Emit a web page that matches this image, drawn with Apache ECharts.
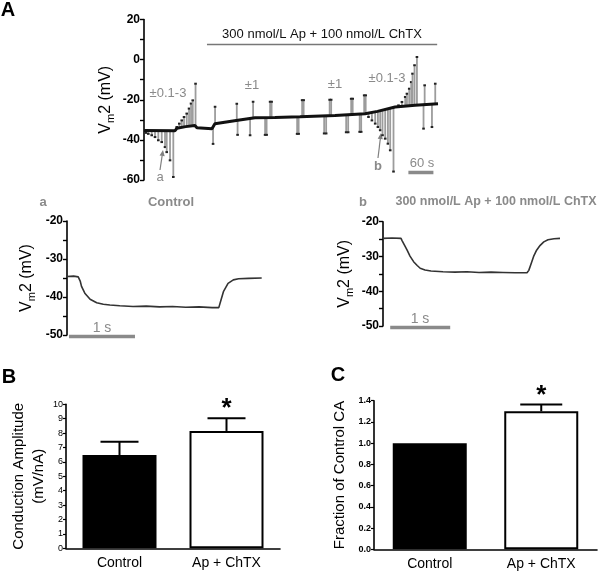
<!DOCTYPE html>
<html><head><meta charset="utf-8">
<script src="https://cdn.jsdelivr.net/npm/echarts@6/dist/echarts.min.js"></script>
<style>html,body{margin:0;padding:0;background:#fff}#c{width:600px;height:572px}</style>
</head><body><div id="c"></div>
<script>
// ---------- Panel A: long recording (time in s, Vm2 in mV) ----------
const traceBaseT = [0, 74, 79, 100, 122, 127, 163, 170, 221, 266, 314, 374, 458, 530, 560, 602, 650, 705];
const traceBaseV = [-35.3, -35.5, -34.2, -33.4, -32.8, -34, -34.5, -32, -30.3, -29, -28.8, -28.5, -27.8, -27, -25.8, -23.6, -22.8, -22];
// current-pulse responses: time and peak voltage
const pulseT = [4.8, 10.3, 18.5, 26.4, 34.3, 42.5, 50.4, 54.5, 62.4, 70.3,
  78.5, 84.7, 90.5, 96, 102.5, 108, 112.8, 116.9, 123.6,
  165.6, 170.4, 222.5, 224.4, 254.4, 261.6, 290.4, 294, 302.4, 306,
  367.2, 370.8, 379.2, 382.8, 432, 436.8, 445.2, 448.8, 484.8, 489.6, 496.8, 500.4,
  517.2, 520.8, 528, 531.6,
  538.3, 546.5, 554.4, 560.9, 566.4, 571.9, 578.4, 584.9, 590.4, 598.3,
  610.3, 618.5, 626.4, 630.5, 636, 640.8, 643.9, 648.7, 654.5,
  670.3, 673, 690.5, 698.4];
const pulseV = [-36.5, -37, -37.7, -38.6, -40.2, -41.1, -43.6, -46.1, -50.2, -58.5,
  -33.6, -31.9, -30.3, -28.6, -26.9, -24.4, -21.9, -20.3, -12,
  -42, -23.5, -22, -37.5, -37.7, -21, -37.5, -37.5, -21, -21,
  -37, -37, -20.2, -20.2, -36.8, -36.8, -20, -20, -36.2, -36.2, -19.5, -19.5,
  -36, -36, -17.8, -17.8,
  -28.6, -30.3, -31.9, -33.6, -35.2, -37.7, -39.4, -41.9, -45.2, -55.8,
  -22.8, -21.1, -18.6, -17, -14.5, -11.2, -7, -2.8, 1.3,
  -34.4, -12.8, -33.6, -12];

// ---------- Panels a and b: single responses (time in s, mV) ----------
const aT = [0, 0.1, 0.17, 0.2, 0.22, 0.27, 0.35, 0.45, 0.55, 0.65, 0.8, 1.0, 1.2, 1.4, 1.6, 1.8, 2.0, 2.2, 2.3, 2.33, 2.37, 2.44, 2.52, 2.6, 2.75, 2.95];
const aV = [-34.6, -34.5, -34.7, -35.8, -37.2, -39, -40.6, -41.5, -41.9, -42.1, -42.3, -42.5, -42.4, -42.6, -42.5, -42.7, -42.6, -42.8, -42.8, -41, -38.6, -36.4, -35.5, -35.2, -35.1, -35];
const bT = [0, 0.15, 0.3, 0.32, 0.36, 0.4, 0.45, 0.51, 0.57, 0.62, 0.7, 0.8, 1.0, 1.2, 1.4, 1.6, 1.8, 2.0, 2.2, 2.4, 2.43, 2.47, 2.51, 2.56, 2.62, 2.68, 2.75, 2.85, 2.95];
const bV = [-24.8, -24.7, -24.8, -25.5, -26.8, -28.1, -29.9, -31.5, -32.6, -33.4, -33.9, -34.2, -34.4, -34.5, -34.4, -34.6, -34.5, -34.6, -34.7, -34.7, -34, -32, -30, -28.2, -26.8, -25.8, -25.2, -24.9, -24.8];

// ---------- Panels B and C ----------
const barCats = ['Control', 'Ap + ChTX'];
const caMean = [6.48, 8.15];
const caSem = [0.92, 0.88];
const fracMean = [1.0, 1.30];
const fracSem = [0, 0.065];
const significant = [false, true];

// ---------- helpers ----------
const FONT = 'Liberation Sans, Arial, Helvetica, sans-serif';
const zip = (xs, ys) => xs.map((x, i) => [x, ys[i]]);
function baseAt(t) {
  for (let i = 1; i < traceBaseT.length; i++) {
    if (t <= traceBaseT[i]) {
      const f = (t - traceBaseT[i - 1]) / (traceBaseT[i] - traceBaseT[i - 1]);
      return traceBaseV[i - 1] + f * (traceBaseV[i] - traceBaseV[i - 1]);
    }
  }
  return traceBaseV[traceBaseV.length - 1];
}
const vmName = '{v|V}{s|m}{v|2 (mV)}';
const vmRich = {
  v: {fontSize: 16, fontFamily: FONT, color: '#000', lineHeight: 20},
  s: {fontSize: 11, fontFamily: FONT, color: '#000', lineHeight: 11, verticalAlign: 'bottom'}
};
function traceY(gi, min, max, interval, labelStep, gap) {
  return {
    type: 'value', gridIndex: gi, min, max, interval,
    axisLine: {show: true, lineStyle: {color: '#000', width: 1.6}},
    axisTick: {show: true, length: 4, lineStyle: {color: '#000', width: 1.4}},
    splitLine: {show: false},
    axisLabel: {color: '#000', fontWeight: 'bold', fontSize: 12, fontFamily: FONT, margin: 4, showMinLabel: true, showMaxLabel: true,
      formatter: v => (Math.abs(Math.round(v) % labelStep) === 0 ? String(Math.round(v)) : '')},
    name: vmName, nameLocation: 'middle', nameRotate: 90, nameGap: gap,
    nameTextStyle: {rich: vmRich}
  };
}
function hiddenX(gi, min, max) {
  return {type: 'value', gridIndex: gi, min, max, show: false};
}
function barX(gi) {
  return {
    type: 'category', gridIndex: gi, data: barCats,
    axisLine: {show: true, lineStyle: {color: '#000', width: 1.6}},
    axisTick: {show: false},
    axisLabel: {color: '#000', fontSize: 14, fontFamily: FONT, margin: 8}
  };
}
function barY(gi, min, max, interval, name, gap, bold, digits) {
  return {
    type: 'value', gridIndex: gi, min, max, interval,
    axisLine: {show: true, lineStyle: {color: '#000', width: 1.6}},
    axisTick: {show: true, length: 3, lineStyle: {color: '#000', width: 1.2}},
    splitLine: {show: false},
    axisLabel: {color: '#000', fontSize: 9, fontWeight: bold ? 'bold' : 'normal', fontFamily: FONT, margin: 3,
      formatter: v => v.toFixed(digits)},
    name, nameLocation: 'middle', nameRotate: 90, nameGap: gap,
    nameTextStyle: {color: '#000', fontSize: 15, fontFamily: FONT, lineHeight: 20}
  };
}
function errSeries(gi, means, sems, capHalf) {
  return {
    type: 'custom', xAxisIndex: gi, yAxisIndex: gi, z: 4,
    data: means.map((m, i) => [i, m, m + sems[i], significant[i] ? 1 : 0]),
    renderItem: (params, api) => {
      const p0 = api.coord([api.value(0), api.value(1)]);
      const p1 = api.coord([api.value(0), api.value(2)]);
      const children = [];
      if (api.value(2) > api.value(1)) {
        children.push(
          {type: 'line', shape: {x1: p0[0], y1: p0[1], x2: p1[0], y2: p1[1]}, style: {stroke: '#000', lineWidth: 2}},
          {type: 'line', shape: {x1: p1[0] - capHalf, y1: p1[1], x2: p1[0] + capHalf, y2: p1[1]}, style: {stroke: '#000', lineWidth: 2}});
      }
      if (api.value(3)) {
        children.push({type: 'text', x: p1[0], y: p1[1] - 9,
          style: {text: '*', font: 'bold 26px ' + FONT, fill: '#000', textAlign: 'center', textVerticalAlign: 'middle', align: 'center', verticalAlign: 'middle'}});
      }
      return {type: 'group', children};
    }
  };
}
function barSeries(gi, means) {
  return {
    type: 'bar', xAxisIndex: gi, yAxisIndex: gi, barWidth: 74, z: 2,
    data: means.map((v, i) => ({value: v, itemStyle: i === 0 ? {color: '#000'} : {color: '#fff', borderColor: '#000', borderWidth: 2}}))
  };
}
function txt(text, x, y, size, color, weight, align) {
  return {type: 'text', x, y, style: {text, fill: color, font: (weight || 'normal') + ' ' + size + 'px ' + FONT,
    textAlign: align || 'center', textVerticalAlign: 'middle', align: align || 'center', verticalAlign: 'middle'}};
}
function arrow(x1, y1, x2, y2) {
  const ang = Math.atan2(y2 - y1, x2 - x1), L = 6, W = 2.6;
  const bx = x2 - L * Math.cos(ang), by = y2 - L * Math.sin(ang);
  const nx = -Math.sin(ang) * W, ny = Math.cos(ang) * W;
  return [
    {type: 'line', shape: {x1, y1, x2: bx, y2: by}, style: {stroke: '#808080', lineWidth: 1.2}},
    {type: 'polygon', shape: {points: [[x2, y2], [bx + nx, by + ny], [bx - nx, by - ny]]}, style: {fill: '#808080'}}
  ];
}

const chart = echarts.init(document.getElementById('c'));
const GRAY = '#8a8a8a';
chart.setOption({
  animation: false,
  backgroundColor: '#fff',
  grid: [
    {left: 144, top: 19.5, width: 294, height: 160.5},
    {left: 67, top: 221, width: 198, height: 114},
    {left: 383, top: 221.7, width: 180, height: 104.3},
    {left: 66, top: 404.3, width: 214, height: 144},
    {left: 374, top: 400.7, width: 223, height: 148.6}
  ],
  xAxis: [hiddenX(0, 0, 705), hiddenX(1, 0, 3), hiddenX(2, 0, 3), barX(3), barX(4)],
  yAxis: [
    traceY(0, -60, 20, 10, 20, 28),
    traceY(1, -50, -20, 5, 10, 30),
    traceY(2, -50, -20, 5, 10, 28),
    barY(3, 0, 10, 1, 'Conduction Amplitude\n(mV/nA)', 16, false, 0),
    barY(4, 0, 1.4, 0.2, 'Fraction of Control CA', 24, true, 1)
  ],
  series: [
    // Panel A pulses
    {
      type: 'custom', xAxisIndex: 0, yAxisIndex: 0, z: 2,
      data: zip(pulseT, pulseV),
      renderItem: (params, api) => {
        const t = api.value(0), v = api.value(1);
        const p0 = api.coord([t, baseAt(t)]), p1 = api.coord([t, v]);
        return {type: 'group', children: [
          {type: 'line', shape: {x1: p0[0], y1: p0[1], x2: p1[0], y2: p1[1]}, style: {stroke: '#9c9c9c', lineWidth: 1.8}},
          {type: 'line', shape: {x1: p1[0] - 1.3, y1: p1[1], x2: p1[0] + 1.3, y2: p1[1]}, style: {stroke: '#222', lineWidth: 2}}
        ]};
      }
    },
    // Panel A baseline
    {type: 'line', xAxisIndex: 0, yAxisIndex: 0, z: 3, data: zip(traceBaseT, traceBaseV), symbol: 'none',
      lineStyle: {color: '#111', width: 3}},
    // treatment bar
    {type: 'line', xAxisIndex: 0, yAxisIndex: 0, data: [[151, 7.6], [703, 7.6]], symbol: 'none', clip: false,
      lineStyle: {color: '#777', width: 1.5}},
    // 60 s scale bar
    {type: 'line', xAxisIndex: 0, yAxisIndex: 0, data: [[634, -56.3], [694, -56.3]], symbol: 'none', clip: false,
      lineStyle: {color: GRAY, width: 3.5}},
    // Panel a trace
    {type: 'line', xAxisIndex: 1, yAxisIndex: 1, data: zip(aT, aV), symbol: 'none', lineStyle: {color: '#333', width: 1.6}},
    {type: 'line', xAxisIndex: 1, yAxisIndex: 1, data: [[0.03, -50.4], [1.03, -50.4]], symbol: 'none', clip: false,
      lineStyle: {color: GRAY, width: 3.5}},
    // Panel b trace
    {type: 'line', xAxisIndex: 2, yAxisIndex: 2, data: zip(bT, bV), symbol: 'none', lineStyle: {color: '#333', width: 1.6}},
    {type: 'line', xAxisIndex: 2, yAxisIndex: 2, data: [[0.12, -50.4], [1.12, -50.4]], symbol: 'none', clip: false,
      lineStyle: {color: GRAY, width: 3.5}},
    // Panel B
    barSeries(3, caMean), errSeries(3, caMean, caSem, 19),
    // Panel C
    barSeries(4, fracMean), errSeries(4, fracMean, fracSem, 21)
  ],
  graphic: [
    txt('A', 8, 10, 20, '#000', 'bold'),
    txt('300 nmol/L Ap + 100 nmol/L ChTX', 322, 34, 13, '#111'),
    txt('±0.1-3', 168, 93, 13, GRAY),
    txt('±1', 252, 85, 13, GRAY),
    txt('±1', 335, 84, 13, GRAY),
    txt('±0.1-3', 387, 78, 13, GRAY),
    txt('a', 160, 177, 13, GRAY),
    txt('b', 378, 166, 13, GRAY, 'bold'),
    txt('60 s', 422, 163, 13, GRAY),
    ...arrow(160, 170, 163, 150),
    ...arrow(378, 158, 381, 133),
    txt('a', 43, 202, 13, GRAY, 'bold'),
    txt('Control', 171, 202, 13, GRAY, 'bold'),
    txt('b', 363, 202, 13, GRAY, 'bold'),
    txt('300 nmol/L Ap + 100 nmol/L ChTX', 496, 202, 12.5, GRAY, 'bold'),
    txt('1 s', 102, 328, 14, GRAY),
    txt('1 s', 420, 319, 14, GRAY),
    txt('B', 9, 377, 20, '#000', 'bold'),
    txt('C', 338, 375, 20, '#000', 'bold')
  ]
});
</script></body></html>
